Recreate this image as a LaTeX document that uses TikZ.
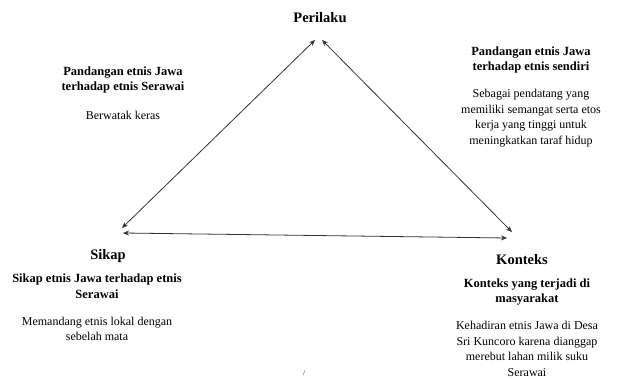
\documentclass[tikz,border=0pt]{standalone}
\usepackage{fontspec}
\setmainfont{Liberation Serif}
\usetikzlibrary{arrows.meta}
\begin{document}
\begin{tikzpicture}[x=1pt,y=-1pt,
  lbl/.style={align=center,inner sep=0pt,font=\fontsize{12}{15.7}\selectfont},
  hd/.style={align=center,inner sep=0pt,font=\fontsize{12.5}{15.7}\selectfont\bfseries},
  big/.style={inner sep=0pt,font=\fontsize{14.5}{16}\selectfont\bfseries},
  link/.style={draw=black!80,line width=0.8pt,{Stealth[length=6pt,width=5pt]}-{Stealth[length=6pt,width=5pt]}}]
\useasboundingbox (0,0) rectangle (618,379);
\coordinate (tl) at (315,40);
\coordinate (tr) at (322,40);
\coordinate (l1) at (122,228);
\coordinate (l2) at (123,233);
\coordinate (r1) at (512,232);
\coordinate (r2) at (507,238);
\draw[link] (tl) -- (l1);
\draw[link] (tr) -- (r1);
\draw[link] (l2) -- (r2);
\node[big] (per) at (320,18) {Perilaku};
\node[big] (sik) at (108,256) {Sikap};
\node[big] (kon) at (522,260) {Konteks};
\node[hd] (h1) at (123,80) {Pandangan etnis Jawa\\terhadap etnis Serawai};
\node[lbl] (t1) at (123,115) {Berwatak keras};
\node[hd] (h2) at (531,60) {Pandangan etnis Jawa\\terhadap etnis sendiri};
\node[lbl] (t2) at (531,118) {Sebagai pendatang yang\\memiliki semangat serta etos\\kerja yang tinggi untuk\\meningkatkan taraf hidup};
\node[hd] (h3) at (97,286) {Sikap etnis Jawa terhadap etnis\\Serawai};
\node[lbl] (t3) at (97,329) {Memandang etnis lokal dengan\\sebelah mata};
\node[hd] (h4) at (527,292) {Konteks yang terjadi di\\masyarakat};
\node[lbl] (t4) at (527,349) {Kehadiran etnis Jawa di Desa\\Sri Kuncoro karena dianggap\\merebut lahan milik suku\\Serawai};
\node[inner sep=0pt,font=\fontsize{7}{7}\selectfont] (sl) at (304,373) {/};
\end{tikzpicture}
\end{document}
